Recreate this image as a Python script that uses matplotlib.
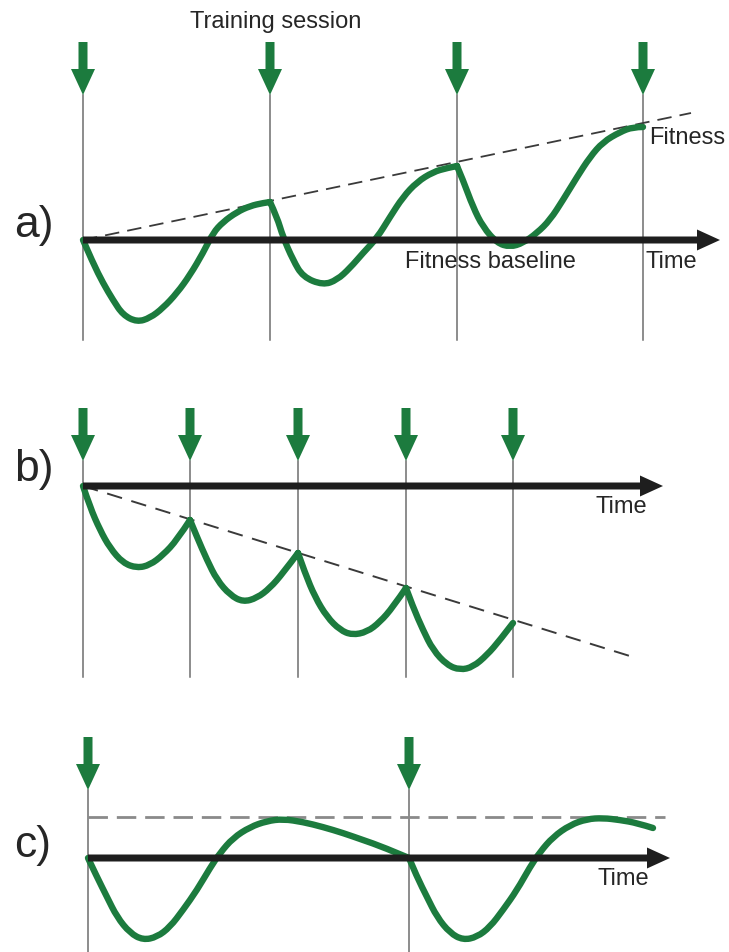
import matplotlib.pyplot as plt
from matplotlib.patches import FancyArrow, PathPatch
from matplotlib.path import Path
from matplotlib.transforms import Affine2D

plt.rcParams["font.family"] = ["Liberation Sans", "DejaVu Sans"]

GREEN = "#1c7b3e"
INK = "#262626"

# --- data: time (t) from first session, fitness (f) relative to baseline ---
# a) sessions well spaced -> fitness climbs
sessions_a = [0, 187, 374, 560]
t_a = [0, 10, 20, 30, 40, 54, 67, 80, 94, 107, 120, 130, 140, 154, 167, 180, 187,
       194, 200, 210, 220, 240, 254, 267, 280, 294, 307, 320, 334, 350, 364, 374,
       380, 390, 400, 414, 427, 440, 454, 467, 480, 494, 507, 520, 537, 550, 560]
f_a = [0, -23, -43, -60, -75, -82, -78, -68, -53, -35, -13, 7, 18, 28, 34, 37, 38,
       23, 3, -20, -37, -45, -40, -28, -13, 2, 23, 43, 58, 68, 72, 74,
       60, 33, 13, -3, -7, -3, 7, 20, 40, 63, 83, 98, 108, 113, 113]
trend_a_t = [0, 608]
trend_a_f = [0, 127]

# b) sessions too close -> fitness drops
sessions_b = [0, 107, 215, 323, 430]
t_b = [0, 7, 17, 27, 40, 54, 67, 80, 94, 107,
       114, 124, 134, 147, 160, 174, 187, 200, 215,
       222, 232, 244, 257, 269, 284, 297, 310, 323,
       330, 340, 350, 364, 377, 390, 404, 417, 430]
f_b = [0, -21, -44, -62, -77, -82, -79, -69, -54, -34,
       -51, -74, -94, -109, -116, -112, -102, -87, -67,
       -87, -111, -131, -144, -149, -146, -136, -121, -102,
       -121, -144, -164, -179, -184, -181, -169, -154, -137]
trend_b_t = [0, 550]
trend_b_f = [0, -171]

# c) sessions too far apart -> fitness plateaus
sessions_c = [0, 321]
t_c = [0, 9, 19, 29, 42, 55, 69, 82, 95, 109, 122, 132, 145, 162, 179, 195, 215,
       235, 255, 275, 295, 321,
       329, 339, 349, 362, 375, 389, 402, 415, 429, 442, 452, 465, 482, 499, 515,
       532, 549, 565]
f_c = [0, -19, -39, -59, -75, -82, -79, -69, -52, -32, -10, 5, 20, 31, 37, 39, 36,
       31, 25, 18, 11, 0,
       -19, -39, -59, -75, -82, -79, -69, -52, -32, -9, 6, 21, 33, 39, 40,
       38, 35, 30]
level_c_t = [0, 577]
level_c_f = [41, 41]

fig = plt.figure(figsize=(7.29, 9.52), dpi=100)
ax = fig.add_axes([0, 0, 1, 1])
ax.set_xlim(0, 729)
ax.set_ylim(952, 0)
ax.axis("off")


def smooth_path(t, f, breaks):
    # one quadratic-bezier run per gap between sessions, so the kinks at
    # each session stay sharp
    verts, codes = [], []
    pts = list(zip(t, f))
    cut = [i for i, x in enumerate(t) if x in breaks] + [len(t) - 1]
    cut = sorted(set(cut))
    for a, b in zip(cut[:-1], cut[1:]):
        seg = pts[a:b + 1]
        verts.append(seg[0])
        codes.append(Path.MOVETO)
        for i in range(1, len(seg) - 1):
            nxt = seg[i + 1]
            end = nxt if i == len(seg) - 2 else ((seg[i][0] + nxt[0]) / 2,
                                                 (seg[i][1] + nxt[1]) / 2)
            verts += [seg[i], end]
            codes += [Path.CURVE3, Path.CURVE3]
        if len(seg) == 2:
            verts.append(seg[1])
            codes.append(Path.LINETO)
    return Path(verts, codes)


def panel(x0, base, sessions, t, f, ref_t, ref_f, ref_style, axis_end,
          arrow_top, line_end, label, label_y, time_xy):
    tr = Affine2D().scale(1, -1).translate(x0, base) + ax.transData
    for s in sessions:
        x = x0 + s
        ax.plot([x, x], [arrow_top + 53, line_end], color="#6e6e6e", lw=1.1, zorder=1)
        ax.add_patch(FancyArrow(x, arrow_top, 0, 53, width=9, head_width=24,
                                head_length=26, length_includes_head=True,
                                color=GREEN, lw=0, zorder=5))
    ax.plot(ref_t, ref_f, transform=tr, zorder=2, **ref_style)
    ax.add_patch(PathPatch(smooth_path(t, f, sessions), transform=tr, fill=False,
                           edgecolor=GREEN, lw=4.6, joinstyle="round",
                           capstyle="round", zorder=3))
    ax.add_patch(FancyArrow(x0, base, axis_end - x0, 0, width=7, head_width=21,
                            head_length=23, length_includes_head=True,
                            color="#1e1e1e", lw=0, zorder=4))
    ax.text(14, label_y, label, fontsize=32, color=INK, va="center", ha="left")
    ax.text(time_xy[0], time_xy[1], "Time", fontsize=17, color=INK,
            va="center", ha="left")
    return tr


panel(83, 240, sessions_a, t_a, f_a, trend_a_t, trend_a_f,
      dict(color="#3a3a3a", lw=1.3, linestyle=(0, (8, 4.5))), 720,
      42, 340, "a)", 226, (646, 262))
panel(83, 486, sessions_b, t_b, f_b, trend_b_t, trend_b_f,
      dict(color="#3a3a3a", lw=1.4, linestyle=(0, (8, 5))), 663,
      408, 677, "b)", 470, (596, 507))
panel(88, 858, sessions_c, t_c, f_c, level_c_t, level_c_f,
      dict(color="#8a8a8a", lw=2.0, linestyle=(0, (7, 3.2))), 670,
      737, 952, "c)", 846, (598, 879))

ax.text(276, 22, "Training session", fontsize=17, color=INK, ha="center", va="center")
ax.text(649, 138, "Fitness", fontsize=17, color=INK, ha="left", va="center")
ax.text(405, 262, "Fitness baseline", fontsize=17, color=INK, ha="left", va="center")

fig.savefig("out.png", dpi=100)
